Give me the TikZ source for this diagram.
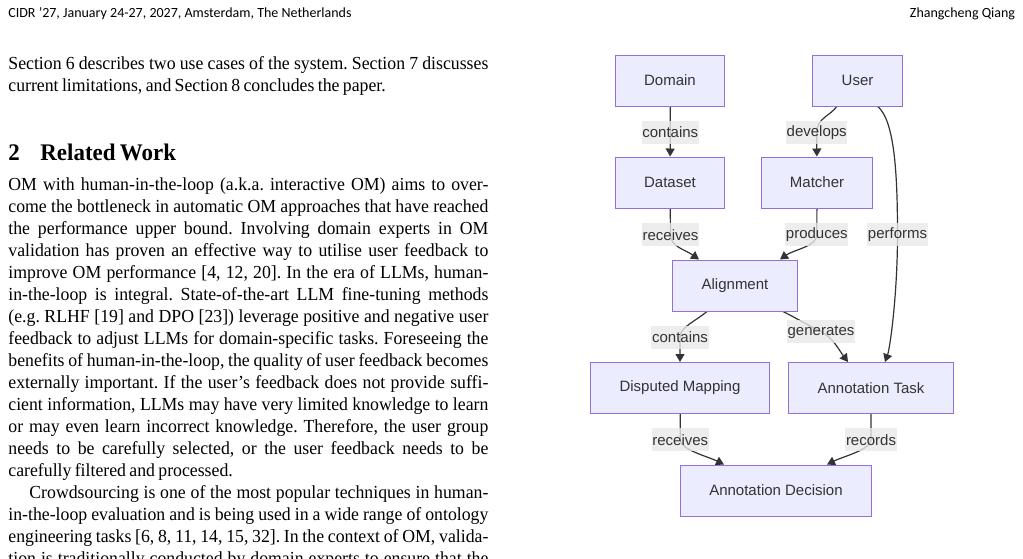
\documentclass[tikz,border=0pt]{standalone}
\usepackage{fontspec}
\setmainfont{Liberation Serif}[WordSpace={0.75,1.5,1.2}, FakeStretch=0.965]
\newfontfamily\headfont{Carlito}
\newfontfamily\diagfont{Liberation Sans}
\usetikzlibrary{positioning,arrows.meta,backgrounds}
\definecolor{nodefill}{HTML}{ECECFF}
\definecolor{nodeline}{HTML}{9370DB}
\definecolor{inkgray}{HTML}{333333}
\definecolor{labelfill}{HTML}{E8E8E8}
\frenchspacing
\tikzset{
  entity/.style={
    rectangle, draw=nodeline, fill=nodefill, line width=0.5pt,
    minimum height=25.5pt, inner xsep=14.4pt, inner ysep=0pt,
    font=\diagfont\fontsize{7.5}{9}\selectfont, text=inkgray
  },
  rel/.style={
    rectangle, fill=labelfill, fill opacity=0.8, text opacity=1,
    inner xsep=0.3pt, inner ysep=0pt, minimum height=11.3pt,
    font=\diagfont\fontsize{7.5}{9}\selectfont, text=inkgray
  },
  link/.style={
    -{Triangle[length=4pt,width=4.5pt]},
    draw=inkgray, line width=0.6pt
  },
  bodytext/.style={
    anchor=base west, inner sep=0pt, align=left, text width=240pt,
    font=\fontsize{9.2}{11}\selectfont
  },
  runhead/.style={
    anchor=base west, inner sep=0pt,
    font=\headfont\fontsize{7}{9}\selectfont
  },
}
% full-width line of the text column
\newcommand{\colline}[1]{\makebox[240pt][s]{#1}}

\begin{document}
\begin{tikzpicture}[x=0.5pt, y=-0.5pt]
  \useasboundingbox (0,0) rectangle (1023,558);
  \clip (0,0) rectangle (1023,558);

  % running head
  \node[runhead] (venue) at (8,17) {CIDR ’27, January 24-27, 2027, Amsterdam, The Netherlands};
  \node[runhead, anchor=base east] (author) at (1015.5,17) {Zhangcheng Qiang};

  % text column
  \node[bodytext] (intro) at (8,69) {\spaceskip=0pt\xspaceskip=0pt
    \colline{Section 6 describes two use cases of the system. Section 7 discusses}\\
    current limitations, and Section 8 concludes the paper.};
  \node[anchor=base west, inner sep=0pt, font=\bfseries\fontsize{11.9}{13}\selectfont] (sec) at (8,160.7) {\makebox[16pt][l]{2}Related Work};
  \node[bodytext] (para) at (8,190) {\spaceskip=0pt\xspaceskip=0pt
    \colline{OM with human-in-the-loop (a.k.a. interactive OM) aims to over-}\\
    \colline{come the bottleneck in automatic OM approaches that have reached}\\
    \colline{the performance upper bound. Involving domain experts in OM}\\
    \colline{validation has proven an effective way to utilise user feedback to}\\
    \colline{improve OM performance [4, 12, 20]. In the era of LLMs, human-}\\
    \colline{in-the-loop is integral. State-of-the-art LLM fine-tuning methods}\\
    \colline{(e.g. RLHF [19] and DPO [23]) leverage positive and negative user}\\
    \colline{feedback to adjust LLMs for domain-specific tasks. Foreseeing the}\\
    \colline{benefits of human-in-the-loop, the quality of user feedback becomes}\\
    \colline{externally important. If the user’s feedback does not provide suffi-}\\
    \colline{cient information, LLMs may have very limited knowledge to learn}\\
    \colline{or may even learn incorrect knowledge. Therefore, the user group}\\
    \colline{needs to be carefully selected, or the user feedback needs to be}\\
    carefully filtered and processed.\\
    \colline{\hspace*{10.5pt}Crowdsourcing is one of the most popular techniques in human-}\\
    \colline{in-the-loop evaluation and is being used in a wide range of ontology}\\
    \colline{engineering tasks [6, 8, 11, 14, 15, 32]. In the context of OM, valida-}\\
    \colline{tion is traditionally conducted by domain experts to ensure that the}};

  % diagram
  \node[entity] (domain) at (670,80.5) {Domain};
  \node[entity] (user) at (857.5,80.5) {User};
  \node[entity] (dataset) at (670,182.5) {Dataset};
  \node[entity] (matcher) at (817,182.5) {Matcher};
  \node[entity] (alignment) at (735,285.5) {Alignment};
  \node[entity] (disputed) at (680,388) {Disputed Mapping};
  \node[entity] (task) at (871,388) {Annotation Task};
  \node[entity] (decision) at (776,490.5) {Annotation Decision};

  \node[rel] (lContain) at (670.3,132.3) {contains};
  \node[rel] (lDevelop) at (816.7,132.3) {develops};
  \node[rel] (lReceive) at (670.5,234.7) {receives};
  \node[rel] (lProduce) at (816.8,234.7) {produces};
  \node[rel] (lPerform) at (897.5,234.7) {performs};
  \node[rel] (lHold) at (680,337.2) {contains};
  \node[rel] (lGenerate) at (821,331.7) {generates};
  \node[rel] (lAccept) at (680.3,439.7) {receives};
  \node[rel] (lRecord) at (871,439.7) {records};

  \begin{scope}[on background layer]
    \draw[link] (domain) -- (lContain.center) -- (dataset);
    \draw[link] ([xshift=-10.4pt]user.south) .. controls +(-6,9) and +(0,-14) .. (lDevelop.center) -- (matcher);
    \draw[link] (dataset) -- (lReceive.center) .. controls +(0,12) and +(-14,-10) .. ([xshift=-18pt]alignment.north);
    \draw[link] (matcher) -- (lProduce.center) .. controls +(0,12) and +(14,-10) .. ([xshift=22.5pt]alignment.north);
    \draw[link] ([xshift=10.1pt]user.south) .. controls +(17,14) and +(0,-60) .. (lPerform.center) .. controls +(0,60) and +(5,-14) .. ([xshift=7pt]task.north);
    \draw[link] ([xshift=-14pt]alignment.south) .. controls +(-12,10) and +(0,-10) .. (lHold.center) -- (disputed);
    \draw[link] ([xshift=24pt]alignment.south) .. controls +(14,7) and +(-12,-6) .. (lGenerate.center) .. controls +(12,6) and +(-9,-12) .. ([xshift=-11.5pt]task.north);
    \draw[link] (disputed) -- (lAccept.center) .. controls +(0,10) and +(-16,-8) .. ([xshift=-26pt]decision.north);
    \draw[link] (task) -- (lRecord.center) .. controls +(0,10) and +(16,-8) .. ([xshift=25.5pt]decision.north);
  \end{scope}
\end{tikzpicture}
\end{document}
